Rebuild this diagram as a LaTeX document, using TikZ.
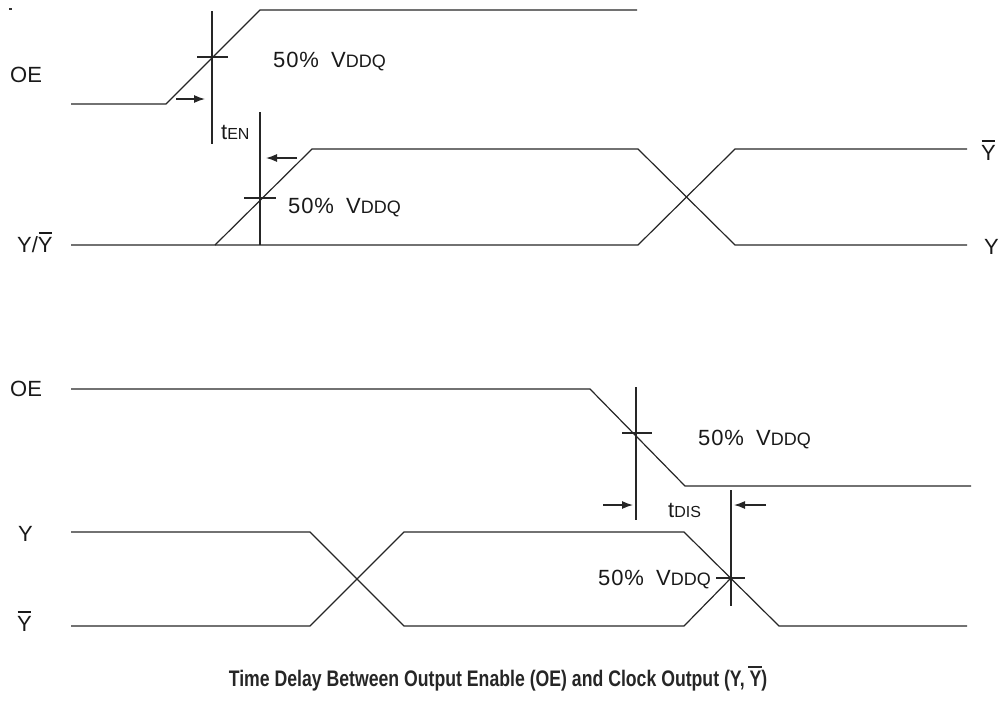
\documentclass[tikz,border=0pt]{standalone}
\usepackage{fontspec}
\setmainfont{Liberation Sans}
\newfontfamily\capfont[FakeStretch=0.785]{Liberation Sans}
\newfontfamily\pctfont[LetterSpace=4]{Liberation Sans}
\usetikzlibrary{arrows.meta}
\newcommand\ybar{\leavevmode\hbox{\rlap{\hbox to \fontcharwd\font`Y{\hss\rule[0.82em]{0.62em}{0.07em}\hss}}Y}}
\newcommand\vddq{{\pctfont 50\%}\ \ V{\fontsize{18}{18}\selectfont DDQ}}
\newcommand\sub[1]{{\fontsize{16}{16}\selectfont #1}}
\tikzset{
  sig/.style={line width=1.2pt, draw=black!85, line join=miter},
  arr/.style={line width=1.3pt, draw=black!85, -{Latex[length=11pt,width=8pt]}},
  lab/.style={anchor=base west, inner sep=0pt, font=\fontsize{22}{26}\selectfont, text=black!90},
  caption/.style={anchor=base, inner sep=0pt, font=\capfont\bfseries\fontsize{22.5}{26}\selectfont, text=black!85}
}
\begin{document}
\begin{tikzpicture}[x=1pt,y=-1pt]
\useasboundingbox (0,0) rectangle (1000,713);
\fill[black!80] (9,8.4) rectangle (12,9.8);
% ---------- top: enable ----------
\node[lab] (oe1) at (10,82) {OE};
\node[lab] (yy1) at (17,252) {Y/\ybar};
\node[lab] (ybr) at (981,160) {\ybar};
\node[lab] (yr) at (984,254) {Y};
\draw[sig] (71,104) -- (166,104) -- (260,10) -- (637,10);
\draw[sig] (212,11) -- (212,144);
\draw[sig] (197,57) -- (228,57);
\node[lab] (p1) at (273,67) {\vddq};
\coordinate (a1s) at (176,99); \coordinate (a1e) at (205,99);
\draw[arr] (a1s) -- (a1e);
\node[lab] (ten) at (221,139) {t\sub{EN}};
\draw[sig] (71,245) -- (215,245) -- (312,149) -- (638,149) -- (735,245) -- (967,245);
\draw[sig] (215,245) -- (638,245) -- (735,149) -- (967,149);
\draw[sig] (260,112) -- (260,245);
\draw[sig] (244,198) -- (276,198);
\node[lab] (p2) at (288,213) {\vddq};
\coordinate (a2s) at (297,158); \coordinate (a2e) at (266,158);
\draw[arr] (a2s) -- (a2e);
% ---------- bottom: disable ----------
\node[lab] (oe2) at (10,396) {OE};
\node[lab] (y2) at (18,541) {Y};
\node[lab] (yb2) at (17,631) {\ybar};
\draw[sig] (71,389) -- (590,389) -- (685,486) -- (971,486);
\draw[sig] (636,387) -- (636,520);
\draw[sig] (622,433) -- (652,433);
\node[lab] (p3) at (698,445) {\vddq};
\coordinate (a3s) at (603,505); \coordinate (a3e) at (633,505);
\draw[arr] (a3s) -- (a3e);
\node[lab] (tdis) at (668,517) {t\sub{DIS}};
\draw[sig] (731,490) -- (731,606);
\coordinate (a4s) at (766,505); \coordinate (a4e) at (734,505);
\draw[arr] (a4s) -- (a4e);
\draw[sig] (71,532) -- (310,532) -- (404,626) -- (684,626) -- (731,578);
\draw[sig] (71,626) -- (310,626) -- (404,532) -- (684,532) -- (779,626) -- (967,626);
\draw[sig] (716,578) -- (745,578);
\node[lab] (p4) at (598,585) {\vddq};
% ---------- caption ----------
\node[caption] (cap) at (498,686) {Time Delay Between Output Enable (OE) and Clock Output (Y, \ybar)};
\end{tikzpicture}
\end{document}
